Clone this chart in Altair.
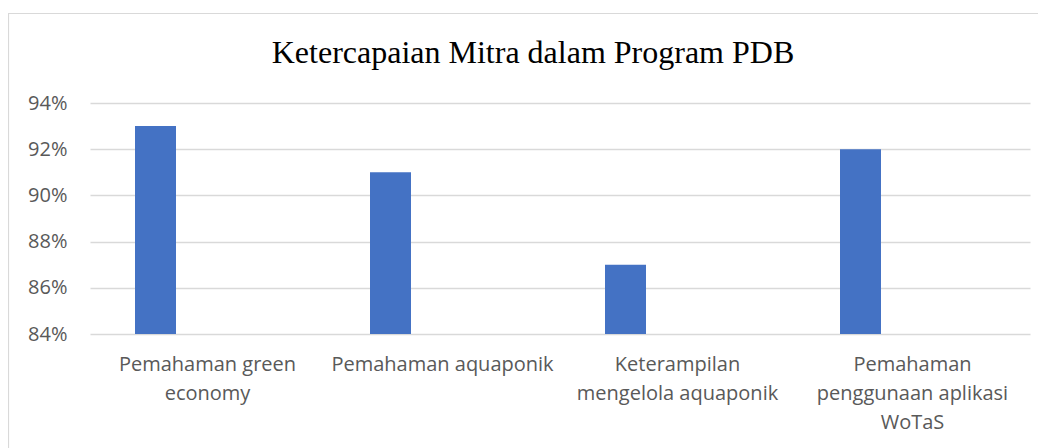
import altair as alt
import pandas as pd

categories = [
    "Pemahaman green|economy",
    "Pemahaman aquaponik",
    "Keterampilan|mengelola aquaponik",
    "Pemahaman|penggunaan aplikasi|WoTaS",
]
values = [0.93, 0.91, 0.87, 0.92]
y_ticks = [0.84, 0.86, 0.88, 0.90, 0.92, 0.94]
title = "Ketercapaian Mitra dalam Program PDB"

df = pd.DataFrame({"cat": categories, "val": values})

W, H = 940, 231
PL, PT, PR, PB = 82, 95, 8, 114

border = alt.Chart(pd.DataFrame({"a": [0]})).mark_rect(
    fill=None, stroke="#d9d9d9", strokeWidth=1.2, clip=False
).encode(
    x=alt.value(-81.5), x2=alt.value(W + 40),
    y=alt.value(-89.5), y2=alt.value(H + 200),
)

title_mark = alt.Chart(pd.DataFrame({"t": [title]})).mark_text(
    font="Liberation Serif", fontSize=32, color="#000000",
    align="center", baseline="alphabetic", clip=False
).encode(text="t:N", x=alt.value(443), y=alt.value(-40))

bars = alt.Chart(df).mark_bar(color="#4472C4", width=41, xOffset=-52, clip=True).encode(
    x=alt.X("cat:N", sort=categories, title=None,
            scale=alt.Scale(paddingInner=0, paddingOuter=0),
            axis=alt.Axis(labelExpr="split(datum.label, '|')", labelAngle=0,
                          labelFont="Open Sans", labelFontSize=20, labelColor="#595959",
                          labelLineHeight=29, labelPadding=20, ticks=False,
                          domain=False, grid=False, labelLimit=300)),
    y=alt.Y("val:Q", title=None,
            scale=alt.Scale(domain=[0.84, 0.94], zero=False, nice=False),
            axis=alt.Axis(values=y_ticks, format=".0%", labelFont="Open Sans",
                          labelFontSize=20, labelColor="#595959", labelPadding=23,
                          ticks=False, domain=False, grid=True,
                          gridColor="#d9d9d9", gridWidth=1.3)),
)

chart = alt.layer(border, title_mark, bars).properties(
    width=W, height=H,
    background="white",
    autosize=alt.AutoSizeParams(type="none"),
    padding={"left": PL, "top": PT, "right": PR, "bottom": PB},
).configure_view(strokeWidth=0, stroke="transparent")

chart.save("out.html", embed_options={"renderer": "svg", "actions": False})
